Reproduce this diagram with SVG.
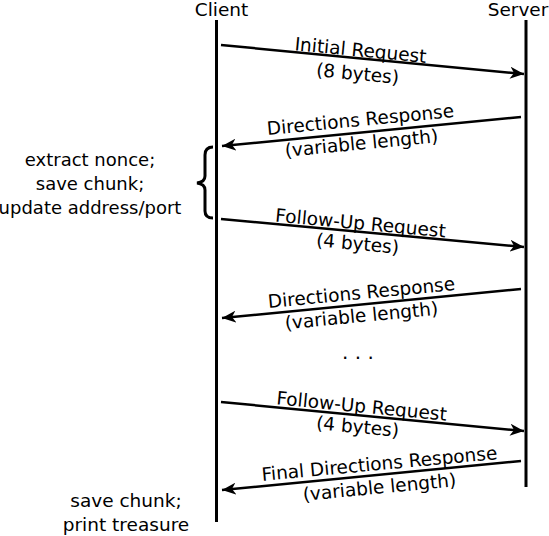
<svg xmlns="http://www.w3.org/2000/svg" width="549" height="536" viewBox="0 0 549 536">
<style>
text{font-family:"DejaVu Sans",Verdana,sans-serif;font-size:18.5px;fill:#000;text-anchor:middle}
.note{font-size:18px}
.ln{stroke:#000;stroke-width:3;fill:none}
.msg{stroke:#000;stroke-width:2.5;fill:none;marker-end:url(#ah)}
</style>
<defs>
<marker id="ah" markerWidth="16" markerHeight="12" refX="14" refY="6" orient="auto" markerUnits="userSpaceOnUse">
<path d="M0,0 L14,6 L0,12 L4,6 Z" fill="#000"/>
</marker>
</defs>
<rect width="549" height="536" fill="#fff"/>
<g id="client">
<text x="221.5" y="15.5">Client</text>
<line class="ln" x1="216.5" y1="20" x2="216.5" y2="522"/>
</g>
<g id="server">
<text x="518" y="15.5">Server</text>
<line class="ln" x1="526" y1="20" x2="526" y2="487"/>
</g>
<g id="connectors">
<line class="msg" x1="221" y1="45" x2="524" y2="74"/>
<line class="msg" x1="521" y1="117" x2="222" y2="146"/>
<line class="msg" x1="221" y1="219" x2="524" y2="247"/>
<line class="msg" x1="521" y1="289" x2="222" y2="318"/>
<line class="msg" x1="221" y1="402" x2="524" y2="431"/>
<line class="msg" x1="521" y1="461" x2="222" y2="490"/>
</g>
<g id="labels">
<text x="360" y="56.5" transform="rotate(5.5 360 56.5)">Initial Request</text>
<text x="357" y="80" transform="rotate(5.5 357 80)">(8 bytes)</text>
<text x="361" y="126" transform="rotate(-5.5 361 126)">Directions Response</text>
<text x="362" y="149.5" transform="rotate(-5.5 362 149.5)">(variable length)</text>
<text x="360" y="229.5" transform="rotate(5.3 360 229.5)">Follow-Up Request</text>
<text x="357" y="250" transform="rotate(5.3 357 250)">(4 bytes)</text>
<text x="362" y="299" transform="rotate(-5.5 362 299)">Directions Response</text>
<text x="362" y="322" transform="rotate(-5.5 362 322)">(variable length)</text>
<text x="358" y="359" style="font-size:20px">. . .</text>
<text x="361" y="412.5" transform="rotate(5.5 361 412.5)">Follow-Up Request</text>
<text x="357" y="433" transform="rotate(5.5 357 433)">(4 bytes)</text>
<text x="380" y="470" transform="rotate(-5.3 380 470)">Final Directions Response</text>
<text x="380" y="493.5" transform="rotate(-5.5 380 493.5)">(variable length)</text>
</g>
<g id="note1">
<path class="ln" d="M213,147 Q205,147 205,155 L205,176 Q205,182 197,183 Q205,184 205,190 L205,211 Q205,218 213,218"/>
<text class="note" x="90" y="166">extract nonce;</text>
<text class="note" x="90" y="190">save chunk;</text>
<text class="note" x="90" y="214">update address/port</text>
</g>
<g id="note2">
<text x="126" y="507">save chunk;</text>
<text x="126" y="531">print treasure</text>
</g>
</svg>
